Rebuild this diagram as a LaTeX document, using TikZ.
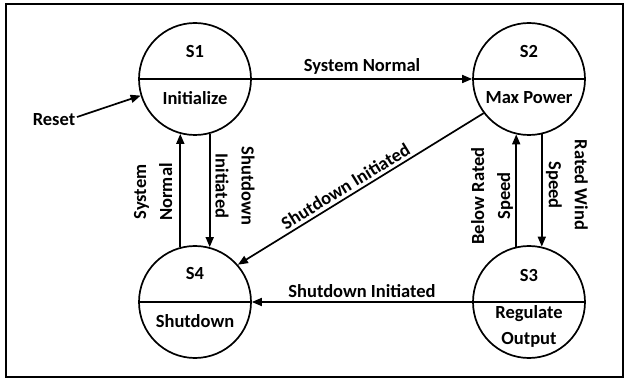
\documentclass[tikz,border=0pt]{standalone}
\usepackage{fontspec}
\setmainfont{Carlito}
\usetikzlibrary{arrows.meta,calc}
\begin{document}
\begin{tikzpicture}[x=1pt,y=-1pt,
  state/.style={circle,draw,line width=1.7pt,minimum size=112pt,inner sep=0pt},
  txt/.style={font=\fontsize{18.5}{26}\selectfont\bfseries,inner sep=2pt,align=center},
  conn/.style={line width=1.7pt,-{Triangle[length=10pt,width=8pt]}},
  divider/.style={line width=1.7pt},
]
\useasboundingbox (0,0) rectangle (626,379);
\draw[line width=1.8pt] (6,4) rectangle (623,377);

% states
\node[state] (s1) at (195,79) {};
\node[state] (s2) at (529,79) {};
\node[state] (s3) at (529,302) {};
\node[state] (s4) at (195,302) {};
\draw[divider] (s1.west) -- (s1.east);
\draw[divider] (s2.west) -- (s2.east);
\draw[divider] (s3.west) -- (s3.east);
\draw[divider] (s4.west) -- (s4.east);

% state texts
\node[txt] (t1a) at (195,52) {S1};
\node[txt] (t1b) at (195,98) {Initialize};
\node[txt] (t2a) at (529,52) {S2};
\node[txt] (t2b) at (529,98) {Max Power};
\node[txt] (t3a) at (529,275) {S3};
\node[txt] (t3b) at (529,326) {Regulate\\Output};
\node[txt] (t4a) at (195,273) {S4};
\node[txt] (t4b) at (195,321) {Shutdown};

% reset
\node[txt] (reset) at (54,120) {Reset};
\coordinate (rs) at (77,117);
\draw[conn] (rs) -- (s1.197);

% transitions
\draw[conn] (s1.east) -- node[txt,above=2pt] {System Normal} (s2.west);
\draw[conn] (s3.west) -- node[txt,above=2pt] {Shutdown Initiated} (s4.east);
\draw[conn] (s2.217) -- node[txt,sloped,above=1pt,pos=0.54] {Shutdown Initiated} (s4.41);

\draw[conn] (s4.105) -- (s1.-105);
\draw[conn] (s1.-75) -- (s4.75);
\draw[conn] (s3.103) -- (s2.-103);
\draw[conn] (s2.-77) -- (s3.77);

% vertical labels
\node[txt,rotate=90] (l1) at (153,192) {System\\Normal};
\node[txt,rotate=-90] (l2) at (235,186) {Shutdown\\Initiated};
\node[txt,rotate=90] (l3) at (492,196) {Below Rated\\Speed};
\node[txt,rotate=-90] (l4) at (567,185) {Rated Wind\\Speed};
\end{tikzpicture}
\end{document}
